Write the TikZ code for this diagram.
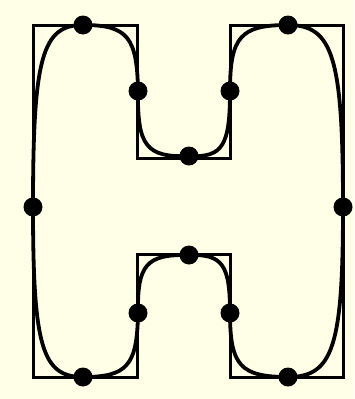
\documentclass[tikz,border=0pt]{standalone}
\usepackage{xcolor}
\usepackage{tikz}
\usetikzlibrary{calc}
\definecolor{paper}{RGB}{255,255,232}

\begin{document}
\begin{tikzpicture}[
  x=1pt, y=-1pt,
  frame/.style={draw=black, line width=3pt, line join=miter},
  spline/.style={draw=black, line width=3.8pt},
  knot/.style={fill=black}]
  \def\pull{0.82}
  % background
  \fill[paper] (0,0) rectangle (354,399);
  \useasboundingbox (0,0) rectangle (354,399);
  % corners of the H
  \coordinate (c1)  at (33,25);
  \coordinate (c2)  at (137,25);
  \coordinate (c3)  at (137,158);
  \coordinate (c4)  at (230,158);
  \coordinate (c5)  at (230,25);
  \coordinate (c6)  at (343,25);
  \coordinate (c7)  at (343,377);
  \coordinate (c8)  at (230,377);
  \coordinate (c9)  at (230,254);
  \coordinate (c10) at (137,254);
  \coordinate (c11) at (137,377);
  \coordinate (c12) at (33,377);
  % points on the curve
  \coordinate (m1)  at (83,25);
  \coordinate (m2)  at (138,91);
  \coordinate (m3)  at (189,156);
  \coordinate (m4)  at (230,91);
  \coordinate (m5)  at (288,25);
  \coordinate (m6)  at (343,207);
  \coordinate (m7)  at (288,377);
  \coordinate (m8)  at (230,313);
  \coordinate (m9)  at (189,255);
  \coordinate (m10) at (138,313);
  \coordinate (m11) at (83,377);
  \coordinate (m12) at (33,207);
  % control polygon
  \draw[frame] (c1) -- (c2) -- (c3) -- (c4) -- (c5) -- (c6) -- (c7) -- (c8)
    -- (c9) -- (c10) -- (c11) -- (c12) -- cycle;
  % smooth curve
  \draw[spline] (m12)
    .. controls ($(m12)!\pull!(c1)$) and ($(m1)!\pull!(c1)$) .. (m1)
    .. controls ($(m1)!\pull!(c2)$) and ($(m2)!\pull!(c2)$) .. (m2)
    .. controls ($(m2)!\pull!(c3)$) and ($(m3)!\pull!(c3)$) .. (m3)
    .. controls ($(m3)!\pull!(c4)$) and ($(m4)!\pull!(c4)$) .. (m4)
    .. controls ($(m4)!\pull!(c5)$) and ($(m5)!\pull!(c5)$) .. (m5)
    .. controls ($(m5)!\pull!(c6)$) and ($(m6)!\pull!(c6)$) .. (m6)
    .. controls ($(m6)!\pull!(c7)$) and ($(m7)!\pull!(c7)$) .. (m7)
    .. controls ($(m7)!\pull!(c8)$) and ($(m8)!\pull!(c8)$) .. (m8)
    .. controls ($(m8)!\pull!(c9)$) and ($(m9)!\pull!(c9)$) .. (m9)
    .. controls ($(m9)!\pull!(c10)$) and ($(m10)!\pull!(c10)$) .. (m10)
    .. controls ($(m10)!\pull!(c11)$) and ($(m11)!\pull!(c11)$) .. (m11)
    .. controls ($(m11)!\pull!(c12)$) and ($(m12)!\pull!(c12)$) .. (m12);
  % knots
  \foreach \k in {m1,m2,m3,m4,m5,m6,m7,m8,m9,m10,m11,m12}
    \fill[knot] (\k) circle (9.5);
\end{tikzpicture}
\end{document}
